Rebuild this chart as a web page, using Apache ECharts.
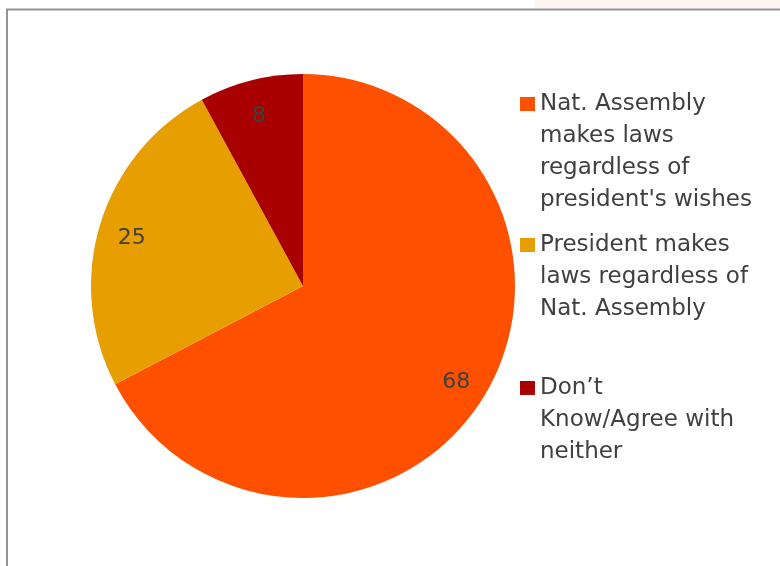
<!DOCTYPE html>
<html>
<head>
<meta charset="utf-8">
<script src="https://cdn.jsdelivr.net/npm/echarts@6/dist/echarts.min.js"></script>
<style>
  html, body { margin: 0; padding: 0; background: #fff; }
  #chart { width: 780px; height: 566px; }
</style>
</head>
<body>
<div id="chart"></div>
<script>
// Survey answers: who makes the laws
const categories = [
  "Nat. Assembly makes laws regardless of president's wishes",
  "President makes laws regardless of Nat. Assembly",
  "Don\u2019t Know/Agree with neither"
];
const values = [68, 25, 8];
const colors = ['#FF5000', '#E69E00', '#A80000'];
// wrapped legend text, one entry per category
const legendLines = [
  ['Nat. Assembly', 'makes laws', 'regardless of', "president's wishes"],
  ['President makes', 'laws regardless of', 'Nat. Assembly'],
  ['Don\u2019t', 'Know/Agree with', 'neither']
];

const FONT = "'DejaVu Sans', sans-serif";
const LINE_H = 32;
// vertical centre of each legend item's first line
const firstLineY = [104, 245, 388];

const data = categories.map((name, i) => ({
  name: name,
  value: values[i],
  itemStyle: { color: colors[i] }
}));

const legends = categories.map((name, i) => {
  const n = legendLines[i].length;
  // extra top padding pushes the text down so the icon sits beside line one
  const padTop = (n - 1) * LINE_H;
  return {
    orient: 'vertical',
    left: 520,
    top: firstLineY[i] - (2 * n - 1) * LINE_H / 2,
    padding: 0,
    itemWidth: 15,
    itemHeight: 14,
    itemGap: 0,
    selectedMode: false,
    icon: 'rect',
    data: [name],
    formatter: () => legendLines[i].map(s => '{t|' + s + '}').join('\n'),
    textStyle: {
      fontFamily: FONT,
      fontSize: 23,
      color: '#404040',
      lineHeight: LINE_H,
      padding: [padTop, 0, 0, 0],
      rich: {
        t: { fontFamily: FONT, fontSize: 23, color: '#404040', lineHeight: LINE_H }
      }
    }
  };
});

const chart = echarts.init(document.getElementById('chart'), null, { renderer: 'canvas' });
chart.setOption({
  animation: false,
  backgroundColor: '#ffffff',
  legend: legends,
  graphic: [
    { type: 'rect', shape: { x: 535, y: 0, width: 245, height: 8 },
      style: { fill: '#fcf4ee' }, silent: true, z: -1 },
    { type: 'polyline', shape: { points: [[7, 566], [7, 9.5], [780, 9.5]] },
      style: { stroke: '#939393', lineWidth: 2, fill: null }, silent: true }
  ],
  series: [
    {
      type: 'pie',
      center: [303, 286],
      radius: [0, 212],
      startAngle: 90,
      clockwise: true,
      silent: true,
      label: { show: false },
      labelLine: { show: false },
      itemStyle: { borderWidth: 0 },
      data: data
    },
    {
      // transparent ring that carries the value labels
      type: 'pie',
      center: [303, 286],
      radius: [140, 212],
      startAngle: 90,
      clockwise: true,
      silent: true,
      legendHoverLink: false,
      itemStyle: { color: 'rgba(0,0,0,0)', borderWidth: 0 },
      label: {
        show: true,
        position: 'inside',
        formatter: '{v|{c}}',
        padding: [8, 0, 0, 0],
        rich: {
          v: { fontFamily: FONT, fontSize: 22, color: '#404040' }
        }
      },
      labelLine: { show: false },
      data: categories.map((name, i) => ({ name: name, value: values[i] }))
    }
  ]
});
</script>
</body>
</html>
